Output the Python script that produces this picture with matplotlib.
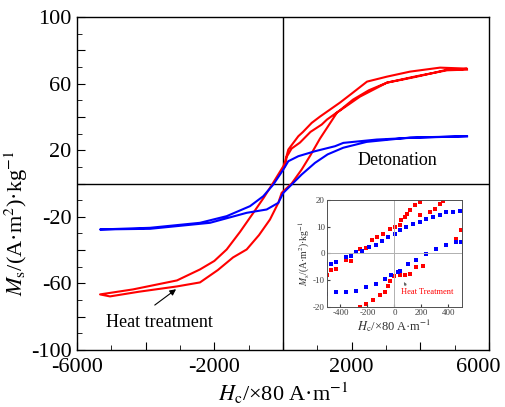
import matplotlib
matplotlib.use("Agg")
import matplotlib.pyplot as plt
import matplotlib.transforms as mtransforms
import numpy as np

plt.rcParams["font.family"] = ["Liberation Serif", "DejaVu Serif"]
plt.rcParams["mathtext.fontset"] = "stix"
plt.rcParams["axes.unicode_minus"] = False

# main loops (H in x80 A/m, M in A m2/kg), traced along the measurement path
heat_h = [0, 58, 107, 250, 495, 800, 1127, 1280, 1660, 2040, 2500, 3030, 3500, 3900, 4400, 4780, 5200, 5360,
          4574, 3700, 3030, 2700, 2447, 2000, 1660, 1078, 835, 583, 446, 155, 58, 10, -282, -560, -864, -1250, -1640, -2000,
          -2418, -3088, -4370, -5330,
          -5040, -4200, -3088, -2418, -1900, -1456, -1058, -700, -379, -136, -39, 252, 543, 800, 1078, 1573, 2243, 3030,
          3900, 4780, 5360]
heat_m = [9, 10.2, 16, 21, 24.6, 31, 35.4, 38.4, 44, 50.4, 56, 60.6, 62.5, 64.2, 66.5, 68.4, 68.6, 69,
          69.6, 67.2, 64.2, 62.5, 61.2, 54, 48.6, 40.2, 36.4, 31, 28.4, 20.4, 13, 10.4, 0.6, -8.5, -17.6, -29, -39.6, -46.5,
          -51.6, -58.2, -63.6, -66.6,
          -67.8, -65, -61.8, -59.4, -52, -44.4, -39.6, -31, -21.6, -11.6, -5.6, 0, 8.4, 17, 27, 42.6, 52.2, 60.6,
          64.5, 68, 68.4]

det_h = [5360, 3700, 2728, 1757, 1515, 932, 446, 155, 10, -282, -573, -961, -1640, -2418, -3874, -5330,
         -3874, -2127, -1058, -476, -136, -39, 10, 252, 543, 932, 1300, 1757, 2437, 3700, 5360]
det_m = [28.4, 27.4, 26.4, 24.4, 22.4, 19.4, 16.4, 13.4, 8.4, -0.6, -7.6, -13.6, -19.6, -23.6, -26.6, -27.6,
         -27.2, -23.6, -17.6, -15.6, -11.6, -7.6, -5.6, -0.6, 5.4, 12.4, 17.5, 21.5, 25, 27.6, 28.4]

# inset: low-field points
ins_red_h = [-497, -468, -430, -356, -320, -258, -208, -164, -130, -85, -36, 1, 38, 51, 75, 93, 113, 150, 187,
             187, 261, 298, 335, 357,
             -258, -208, -160, -110, -73, -48, -36, -6, 38, 75, 113, 162, 211, 384, 458, 495]
ins_red_m = [-7.9, -6.2, -5.8, -2.6, -2.9, 1.8, 2, 5.1, 6.1, 7.4, 9.3, 9.9, 10.5, 12.4, 13.6, 14.9, 16.1, 18, 19.2,
             14.3, 15.5, 16.8, 18.6, 19.5,
             -20, -18.9, -17.5, -15.7, -14.5, -12, -10.1, -8.6, -8.2, -8.2, -7.6, -5.1, -4.5, 3, 5.5, 8.6]
ins_blue_h = [-504, -470, -430, -356, -320, -282, -240, -188, -134, -90, -48, 1, 38, 88, 137, 187, 236, 285, 335, 384, 433, 483,
              -504, -430, -356, -282, -208, -134, -73, -23, 26, 38, 100, 162, 236, 310, 384, 458, 495]
ins_blue_m = [-3.9, -3.9, -3.3, -1.4, -1.0, 0.5, 1.0, 2.4, 3.2, 4.6, 6.1, 7.4, 8.6, 9.9, 11.1, 11.8, 12.8, 13.6, 14.2, 15.5, 15.5, 15.7,
              -15.1, -14.5, -14.4, -13.9, -12.6, -11.4, -9.5, -8.2, -7, -6.4, -3.9, -2.6, -0.1, 1.8, 3, 4.2, 4.2]

x_ticks = [-6000, -4000, -2000, 0, 2000, 4000, 6000]
x_labels = ["-6000", "", "-2000", "", "2000", "", "6000"]
y_ticks = [-100, -80, -60, -40, -20, 0, 20, 40, 60, 80, 100]
y_labels = ["-100", "", "-60", "", "-20", "", "20", "", "60", "", "100"]
ins_x_ticks = [-400, -200, 0, 200, 400]
ins_y_ticks = [-20, -10, 0, 10, 20]

fig = plt.figure(figsize=(5.05, 4.07), dpi=100)
ax = fig.add_axes([0.1525, 0.14, 0.8158, 0.8182])

ax.axhline(0, color="black", lw=1)
ax.axvline(0, color="black", lw=1)
ax.plot(heat_h, heat_m, color="#ff0000", lw=1.5)
ax.plot(det_h, det_m, color="#0000ff", lw=1.5)

ax.set_xlim(-6000, 6000)
ax.set_ylim(-100, 100)
ax.set_xticks(x_ticks)
ax.set_xticklabels(x_labels)
ax.set_yticks(y_ticks)
ax.set_yticklabels(y_labels)
ax.set_xticks(np.arange(-6000, 6001, 1000), minor=True)
ax.set_yticks(np.arange(-100, 101, 10), minor=True)
ax.tick_params(which="both", direction="in", labelsize=16, top=False, right=False)
ax.tick_params(which="major", length=6)
ax.tick_params(which="minor", length=3.5)
ax.tick_params(axis="x", pad=6)
ax.tick_params(axis="y", pad=4)
for s in ax.spines.values():
    s.set_linewidth(1)

# last x label sits inside the figure edge, as in the source
last = ax.get_xticklabels()[-1]
last.set_transform(last.get_transform() + mtransforms.ScaledTranslation(-0.11, 0, fig.dpi_scale_trans))

ax.set_xlabel(r"$H_{\rm c}$/×80 A·m$^{-1}$", fontsize=16, labelpad=2)
ax.set_ylabel(r"$M_{\rm s}$/(A·m$^2$)·kg$^{-1}$", fontsize=16)
ax.yaxis.set_label_coords(-0.115, 0.38)

ax.text(3320, 13.8, "Detonation", fontsize=13, ha="center", va="center")
ax.text(-3600, -83.5, "Heat treatment", fontsize=13, ha="center", va="center")
ax.annotate("", xy=(-3050, -62.5), xytext=(-3800, -74),
            arrowprops=dict(arrowstyle="-|>", color="black", lw=0.8, mutation_scale=9))

# inset
ins = fig.add_axes([0.6475, 0.2457, 0.2673, 0.263])
ins.axhline(0, color="#b0b0b0", lw=0.7)
ins.axvline(0, color="#b0b0b0", lw=0.7)
ins.scatter(ins_red_h, ins_red_m, marker="s", s=6, color="#ff0000", lw=0)
ins.scatter(ins_blue_h, ins_blue_m, marker="s", s=6, color="#0000ff", lw=0)
ins.set_xlim(-500, 500)
ins.set_ylim(-20, 20)
ins.set_xticks(ins_x_ticks)
ins.set_yticks(ins_y_ticks)
ins.tick_params(direction="in", labelsize=6.5, length=2, pad=1.5, colors="#404040")
for s in ins.spines.values():
    s.set_linewidth(0.7)
    s.set_color("#505050")
ins.set_xlabel(r"$H_{\rm c}$/×80 A·m$^{-1}$", fontsize=9, labelpad=0, color="#303030")
ins.set_ylabel(r"$M_{\rm s}$/(A·m$^2$)·kg$^{-1}$", fontsize=7, labelpad=1, color="#303030")
ins.text(240, -14.3, "Heat Treatment", fontsize=6, color="#ff0000", ha="center", va="center")
ins.annotate("", xy=(60, -9.8), xytext=(95, -13),
             arrowprops=dict(arrowstyle="-|>", color="#606060", lw=0.5, mutation_scale=4))

fig.savefig("out.png", dpi=100)
